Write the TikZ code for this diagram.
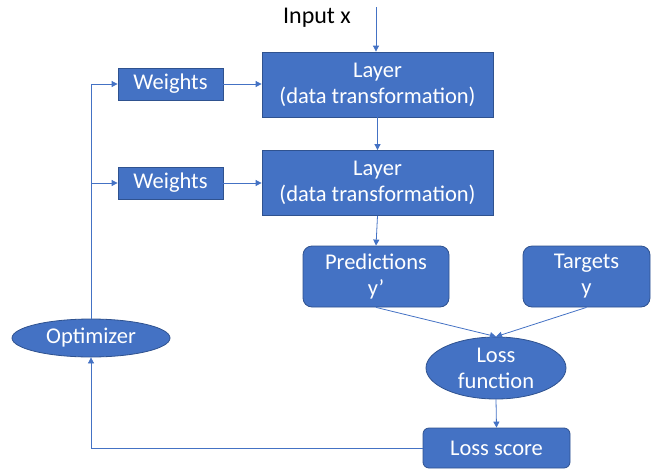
\documentclass[tikz,border=0pt]{standalone}
\usepackage{fontspec}
\setmainfont{Carlito}
\usetikzlibrary{arrows.meta,shapes.geometric}
\definecolor{boxfill}{HTML}{4472C4}
\definecolor{boxedge}{HTML}{2F528F}
\definecolor{wire}{HTML}{4472C4}
\begin{document}
\begin{tikzpicture}[x=1pt,y=-1pt,
  every node/.style={font=\fontsize{22.5}{26}\selectfont, align=center, inner sep=0pt},
  block/.style={draw=boxedge, fill=boxfill, text=white, line width=0.8pt},
  sqbox/.style={block, rectangle},
  rbox/.style={block, rectangle, rounded corners=9pt},
  oval/.style={block, ellipse},
  link/.style={draw=wire, line width=0.8pt, -{Triangle[length=6pt,width=6pt]}},
  plain/.style={draw=wire, line width=0.8pt}]
\useasboundingbox (0,0) rectangle (661,469);

% layers
\node[sqbox, minimum width=231pt, minimum height=65pt] (l1) at (377.5,84.5) {Layer\\(data transformation)};
\node[sqbox, minimum width=231pt, minimum height=65pt] (l2) at (377.5,183) {Layer\\(data transformation)};

% weights
\node[sqbox, minimum width=105pt, minimum height=32pt] (w1) at (170.5,84) {Weights};
\node[sqbox, minimum width=105pt, minimum height=32pt] (w2) at (170.5,183) {Weights};

% outputs and targets
\node[rbox, minimum width=146pt, minimum height=61pt] (pred) at (376,276.5) {Predictions\\y’};
\node[rbox, minimum width=127pt, minimum height=61pt] (targ) at (586.5,276.5) {Targets\\y};

% loss
\node[oval, minimum width=140pt, minimum height=62pt] (loss) at (496,368) {Loss\\function};
\node[rbox, minimum width=147pt, minimum height=40pt, rounded corners=6pt] (score) at (496.5,448) {Loss score};

% optimizer
\node[oval, minimum width=158pt, minimum height=38pt] (opt) at (91,338) {Optimizer};

% input
\node[font=\fontsize{24}{28}\selectfont] (inp) at (317,18) {Input x};
\coordinate (src) at (376,7);

% connectors
\draw[link] (src) -- (src |- l1.north);
\draw[link] (l1.south) -- (l2.north);
\draw[link] (l2.south) -- (pred.north);
\draw[link] (w1.east) -- (w1.east -| l1.west);
\draw[link] (w2.east) -- (w2.east -| l2.west);
\draw[link] (pred.south) -- (loss.north);
\draw[link] (targ.south) -- (loss.north);
\draw[link] (loss.south) -- (score.north);
\draw[link] (score.west) -| (opt.south);
\draw[link] (opt.north) |- (w1.west);
\draw[link] (opt.north |- w2.west) -- (w2.west);
\end{tikzpicture}
\end{document}
